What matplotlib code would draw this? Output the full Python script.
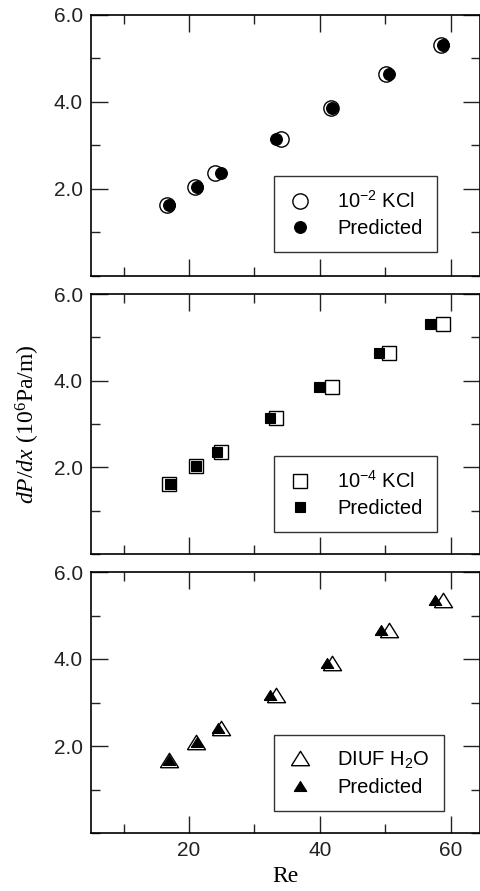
import numpy as np
import matplotlib.pyplot as plt
from matplotlib.ticker import MultipleLocator

plt.rcParams['font.family'] = ['Liberation Sans', 'DejaVu Sans']
plt.rcParams['mathtext.fontset'] = 'custom'
plt.rcParams['mathtext.rm'] = 'Liberation Serif'
plt.rcParams['mathtext.it'] = 'Liberation Serif:italic'
plt.rcParams['mathtext.sf'] = 'Liberation Sans'

# panel 1: 10^-2 KCl
re_kcl2 = [16.65, 20.9, 23.9, 34.1, 41.75, 50.1, 58.5]
re_kcl2_pred = [16.95, 21.2, 24.95, 33.35, 41.85, 50.55, 58.8]
dp_kcl2 = [1.64, 2.05, 2.36, 3.14, 3.86, 4.64, 5.31]

# panel 2: 10^-4 KCl
re_kcl4 = [16.95, 21.1, 24.95, 33.35, 41.85, 50.65, 58.9]
re_kcl4_pred = [17.05, 21.1, 24.3, 32.4, 39.8, 49.0, 56.9]
dp_kcl4 = [1.62, 2.03, 2.35, 3.13, 3.85, 4.64, 5.31]

# panel 3: DIUF water
re_h2o = [16.95, 21.1, 24.85, 33.35, 41.85, 50.65, 58.9]
re_h2o_pred = [16.95, 21.2, 24.4, 32.4, 41.1, 49.4, 57.6]
dp_h2o = [1.68, 2.10, 2.41, 3.17, 3.90, 4.67, 5.36]

labels = [r'$\mathsf{10^{-2}}$ KCl', r'$\mathsf{10^{-4}}$ KCl', r'DIUF H$\mathsf{_2}$O']

# flattened triangle, wider than tall
tri = [(-1, -0.8), (1, -0.8), (0, 0.8), (-1, -0.8)]

fig = plt.figure(figsize=(4.81, 8.91), dpi=100)
W, H = 481, 891
boxes = [(15, 276), (294, 554), (572, 833)]
axes = []
for top, bot in boxes:
    ax = fig.add_axes([91 / W, 1 - bot / H, 389 / W, (bot - top) / H])
    axes.append(ax)

fs = 15
lfs = 14.5
series = [
    (re_kcl2, re_kcl2_pred, dp_kcl2, 'o', 'o', 11, 8.5),
    (re_kcl4, re_kcl4_pred, dp_kcl4, 's', 's', 9.5, 7),
    (re_h2o, re_h2o_pred, dp_h2o, tri, tri, 13, 9),
]
leg_y = [0.092, 0.085, 0.085]
for ax, (x_exp, x_pred, y, m1, m2, ms1, ms2), lab, ly in zip(axes, series, labels, leg_y):
    ax.plot(x_exp, y, ls='none', marker=m1, ms=ms1, mfc='white', mec='black',
            mew=1.0, label=lab)
    ax.plot(x_pred, y, ls='none', marker=m2, ms=ms2, mfc='black', mec='black',
            mew=0.8, label='Predicted')
    ax.set_xlim(5, 64.5)
    ax.set_ylim(0, 6)
    ax.xaxis.set_major_locator(MultipleLocator(20))
    ax.xaxis.set_minor_locator(MultipleLocator(10))
    ax.yaxis.set_minor_locator(MultipleLocator(1))
    ax.set_yticks([2, 4, 6])
    ax.set_yticklabels(['2.0', '4.0', '6.0'])
    ax.tick_params(which='both', direction='in', top=True, right=True,
                   labelsize=fs, width=1.0, colors='#222222', pad=6)
    ax.tick_params(which='major', length=12)
    ax.tick_params(which='minor', length=6.5)
    for s in ax.spines.values():
        s.set_linewidth(1.2)
    leg = ax.legend(loc='lower left', bbox_to_anchor=(0.470, ly),
                    borderaxespad=0, fontsize=lfs, frameon=True, fancybox=False,
                    edgecolor='black', handlelength=1.2, handletextpad=1.25,
                    borderpad=0.7, labelspacing=0.35, numpoints=1)
    leg.get_frame().set_linewidth(1.0)

axes[0].tick_params(labelbottom=False)
axes[1].tick_params(labelbottom=False)
axes[2].set_xticks([20, 40, 60])

axes[1].set_ylabel(r'$dP/dx$ $\mathrm{(10^6 Pa/m)}$', fontsize=17, labelpad=8)
axes[2].set_xlabel('Re', fontsize=17, family='Liberation Serif', labelpad=4)

fig.savefig('out.png', dpi=100)
